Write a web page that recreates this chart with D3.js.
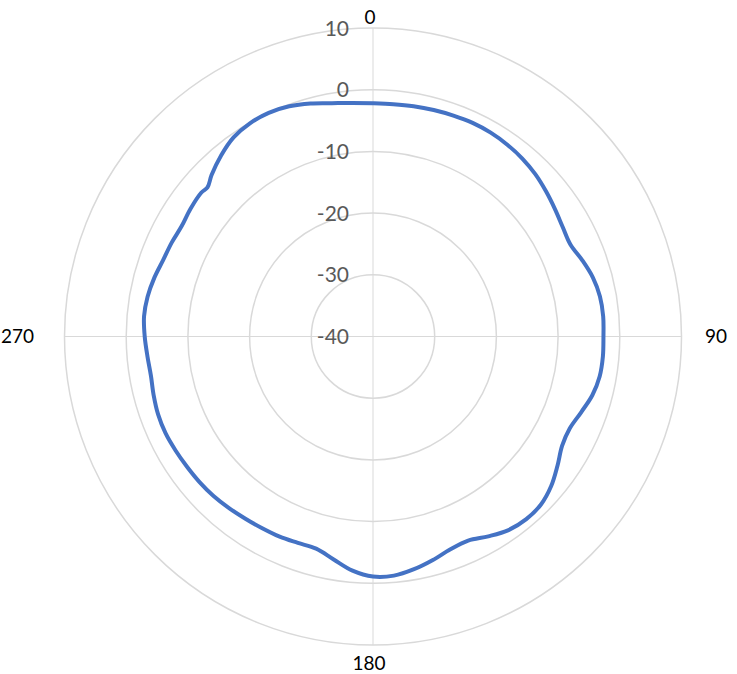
<!DOCTYPE html>
<html>
<head>
<meta charset="utf-8">
<script src="https://cdn.jsdelivr.net/npm/d3@7"></script>
<style>
  html, body { margin: 0; padding: 0; background: #ffffff; }
  svg { display: block; }
</style>
</head>
<body>
<svg id="chart" width="737" height="674"></svg>
<script>
// ---- data ----
const angles = [0,5,10,15,20,25,30,35,40,45,50,55,60,65,70,75,80,85,
  90,95,100,105,110,115,120,125,130,135,140,145,150,155,160,165,170,175,
  180,185,190,195,200,205,210,215,220,225,230,235,240,245,250,255,260,265,
  270,275,280,285,290,295,300,305,310,312,315,320,325,330,335,340,345,350,355];
const values = [-2.2,-2.2,-2.1,-2.0,-1.9,-1.8,-1.85,-2.05,-2.35,-2.8,-3.4,-4.0,-4.5,-4.7,-3.9,-3.1,-2.65,-2.55,
  -2.65,-2.6,-2.7,-3.2,-4.1,-4.8,-4.6,-3.5,-2.3,-1.5,-1.35,-1.7,-2.6,-3.5,-3.3,-2.5,-1.7,-1.1,
  -1.1,-1.9,-3.3,-4.4,-4.4,-4.2,-4.1,-3.95,-3.7,-3.45,-3.3,-3.2,-3.05,-2.9,-2.95,-3.2,-3.45,-3.3,
  -3.0,-2.75,-2.9,-3.3,-3.8,-4.0,-4.2,-3.9,-3.7,-3.9,-3.0,-1.7,-0.6,-0.1,0.0,-0.3,-0.9,-1.6,-2.0];
const radialTicks = [-40,-30,-20,-10,0,10];
const angleLabels = ["0","90","180","270"];

// ---- layout ----
const svg = d3.select("#chart");
const cx = 373, cy = 336.5;
const outer = 308.5;
const r = d3.scaleLinear().domain([-40, 10]).range([0, outer]);
const a = d3.scaleLinear().domain([0, 360]).range([0, 2 * Math.PI]);

const g = svg.append("g").attr("transform", `translate(${cx},${cy})`);

// rings
g.selectAll("circle.ring")
  .data(radialTicks.filter(d => d > -40))
  .join("circle")
  .attr("class", "ring")
  .attr("r", d => r(d))
  .attr("fill", "none")
  .attr("stroke", "#d9d9d9")
  .attr("stroke-width", 1.5);

// spokes
g.selectAll("line.spoke")
  .data(angleLabels)
  .join("line")
  .attr("class", "spoke")
  .attr("x1", 0).attr("y1", 0)
  .attr("x2", d => Math.sin(a(+d)) * outer)
  .attr("y2", d => -Math.cos(a(+d)) * outer)
  .attr("stroke", "#d9d9d9")
  .attr("stroke-width", 1);

// radial tick labels
g.selectAll("text.rtick")
  .data(radialTicks)
  .join("text")
  .attr("class", "rtick")
  .attr("x", -24)
  .attr("y", d => -r(d))
  .attr("dy", "0.36em")
  .attr("text-anchor", "end")
  .attr("font-family", "Lato, 'Open Sans', sans-serif")
  .attr("font-size", 21)
  .attr("fill", "#595959")
  .text(d => d);

// angular labels
const labelGap = [10.5, 34.5, 18.5, 47];
g.selectAll("text.alabel")
  .data(angleLabels)
  .join("text")
  .attr("class", "alabel")
  .attr("x", (d, i) => Math.sin(a(+d)) * (outer + labelGap[i]) - (i === 0 ? 3 : 0) - (i === 2 ? 4 : 0))
  .attr("y", (d, i) => -Math.cos(a(+d)) * (outer + labelGap[i]))
  .attr("dy", "0.36em")
  .attr("text-anchor", "middle")
  .attr("font-family", "Lato, 'Open Sans', sans-serif")
  .attr("font-size", 19)
  .attr("fill", "#000000")
  .text(d => d);

// series
const pts = angles.map((ang, i) => [a(ang), r(values[i])]);
const line = d3.lineRadial()
  .angle(d => d[0])
  .radius(d => d[1])
  .curve(d3.curveCatmullRomClosed.alpha(0.5));

g.append("path")
  .datum(pts)
  .attr("d", line)
  .attr("fill", "none")
  .attr("stroke", "#4472c4")
  .attr("stroke-width", 4)
  .attr("stroke-linejoin", "round");
</script>
</body>
</html>
